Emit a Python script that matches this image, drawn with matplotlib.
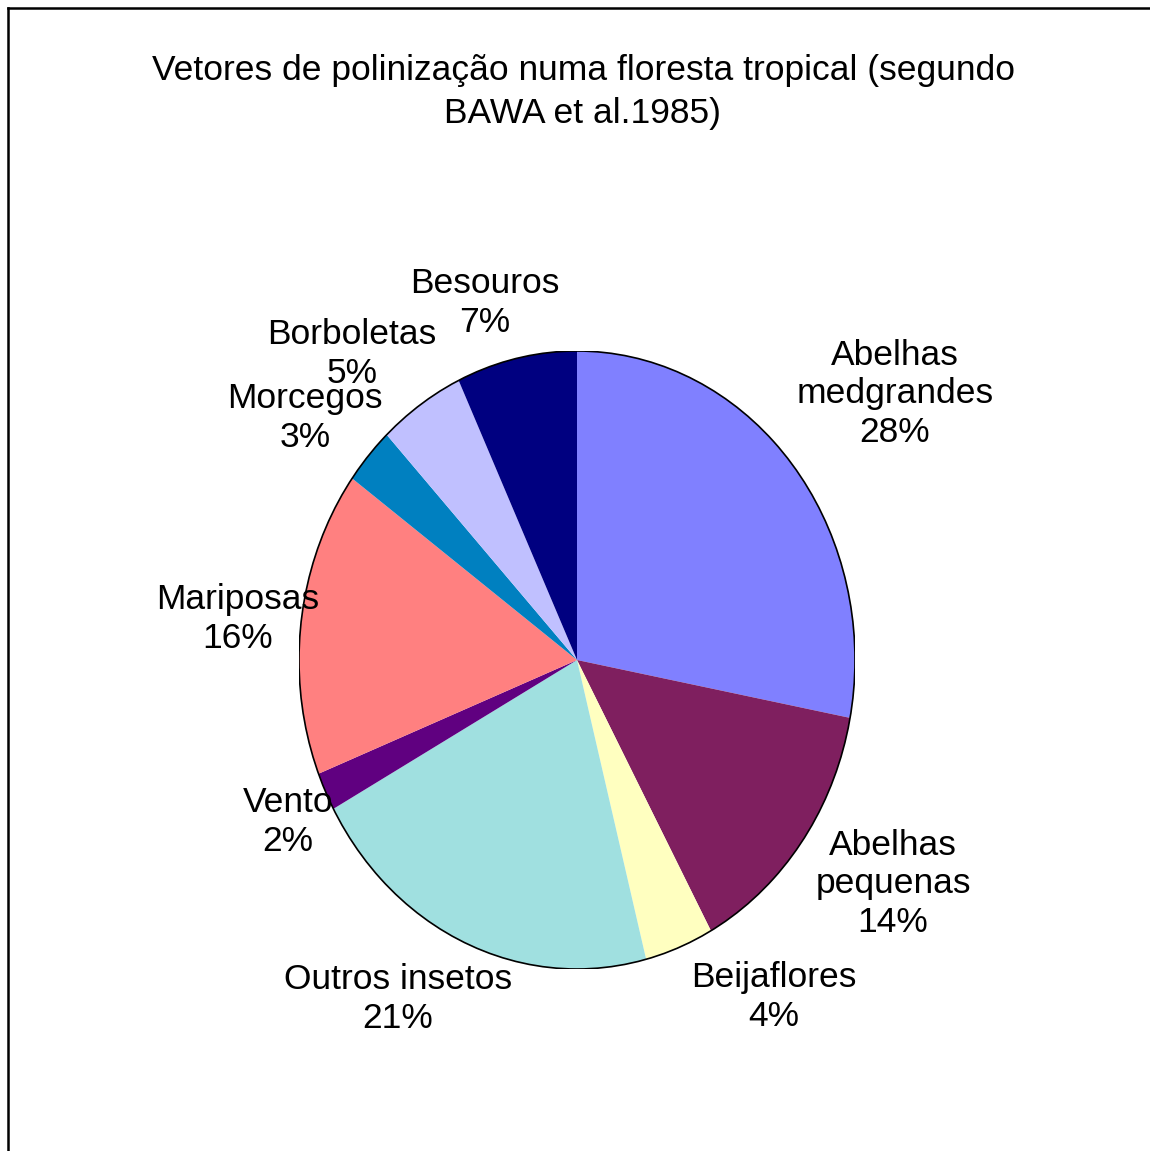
import matplotlib.pyplot as plt
from matplotlib.patches import Circle
from matplotlib.lines import Line2D

W, H = 1150, 1151

labels = ["Abelhas\nmedgrandes", "Abelhas\npequenas", "Beijaflores", "Outros insetos",
          "Vento", "Mariposas", "Morcegos", "Borboletas", "Besouros"]
shares = [28, 14, 4, 21, 2, 16, 3, 5, 7]
colors = ["#8080FF", "#7F1F5F", "#FFFFC0", "#A0E0E0", "#600080",
          "#FF8080", "#0080C0", "#C0C0FF", "#000080"]
# label centres in pixels (x, y from top)
label_pos = [(895, 394), (893, 884), (774, 997), (398, 999), (288, 822),
             (238, 619), (305, 418), (352, 354), (485, 303)]

plt.rcParams['font.family'] = ['Liberation Sans', 'DejaVu Sans']

fig = plt.figure(figsize=(W / 100, H / 100), dpi=100)

# pie is drawn as an ellipse: centre (577, 660), rx 278, ry 309
cx, cy, rx, ry = 577, 660, 278, 309
ax = fig.add_axes([(cx - rx) / W, 1 - (cy + ry) / H, 2 * rx / W, 2 * ry / H])
ax.pie(shares, colors=colors, startangle=90, counterclock=False,
       wedgeprops=dict(linewidth=0))
ax.add_patch(Circle((0, 0), 1, fill=False, ec="black", lw=1.2))
ax.set_aspect("auto")
ax.set_xlim(-1, 1)
ax.set_ylim(-1, 1)
ax.axis("off")

for lab, val, (px, py) in zip(labels, shares, label_pos):
    fig.text(px / W, 1 - py / H, f"{lab}\n{val}%", ha="center", va="center",
             multialignment="center", fontsize=25.5, linespacing=1.2)

fig.text(583 / W, 1 - 92 / H,
         "Vetores de polinização numa floresta tropical (segundo\nBAWA et al.1985)",
         ha="center", va="center", multialignment="center",
         fontsize=25.5, linespacing=1.38)

# frame (only top and left edges visible)
fig.add_artist(Line2D([8 / W, 1], [1 - 8 / H, 1 - 8 / H], color="black", lw=1.8))
fig.add_artist(Line2D([8 / W, 8 / W], [0, 1 - 8 / H], color="black", lw=1.8))

fig.savefig("out.png", dpi=100)
